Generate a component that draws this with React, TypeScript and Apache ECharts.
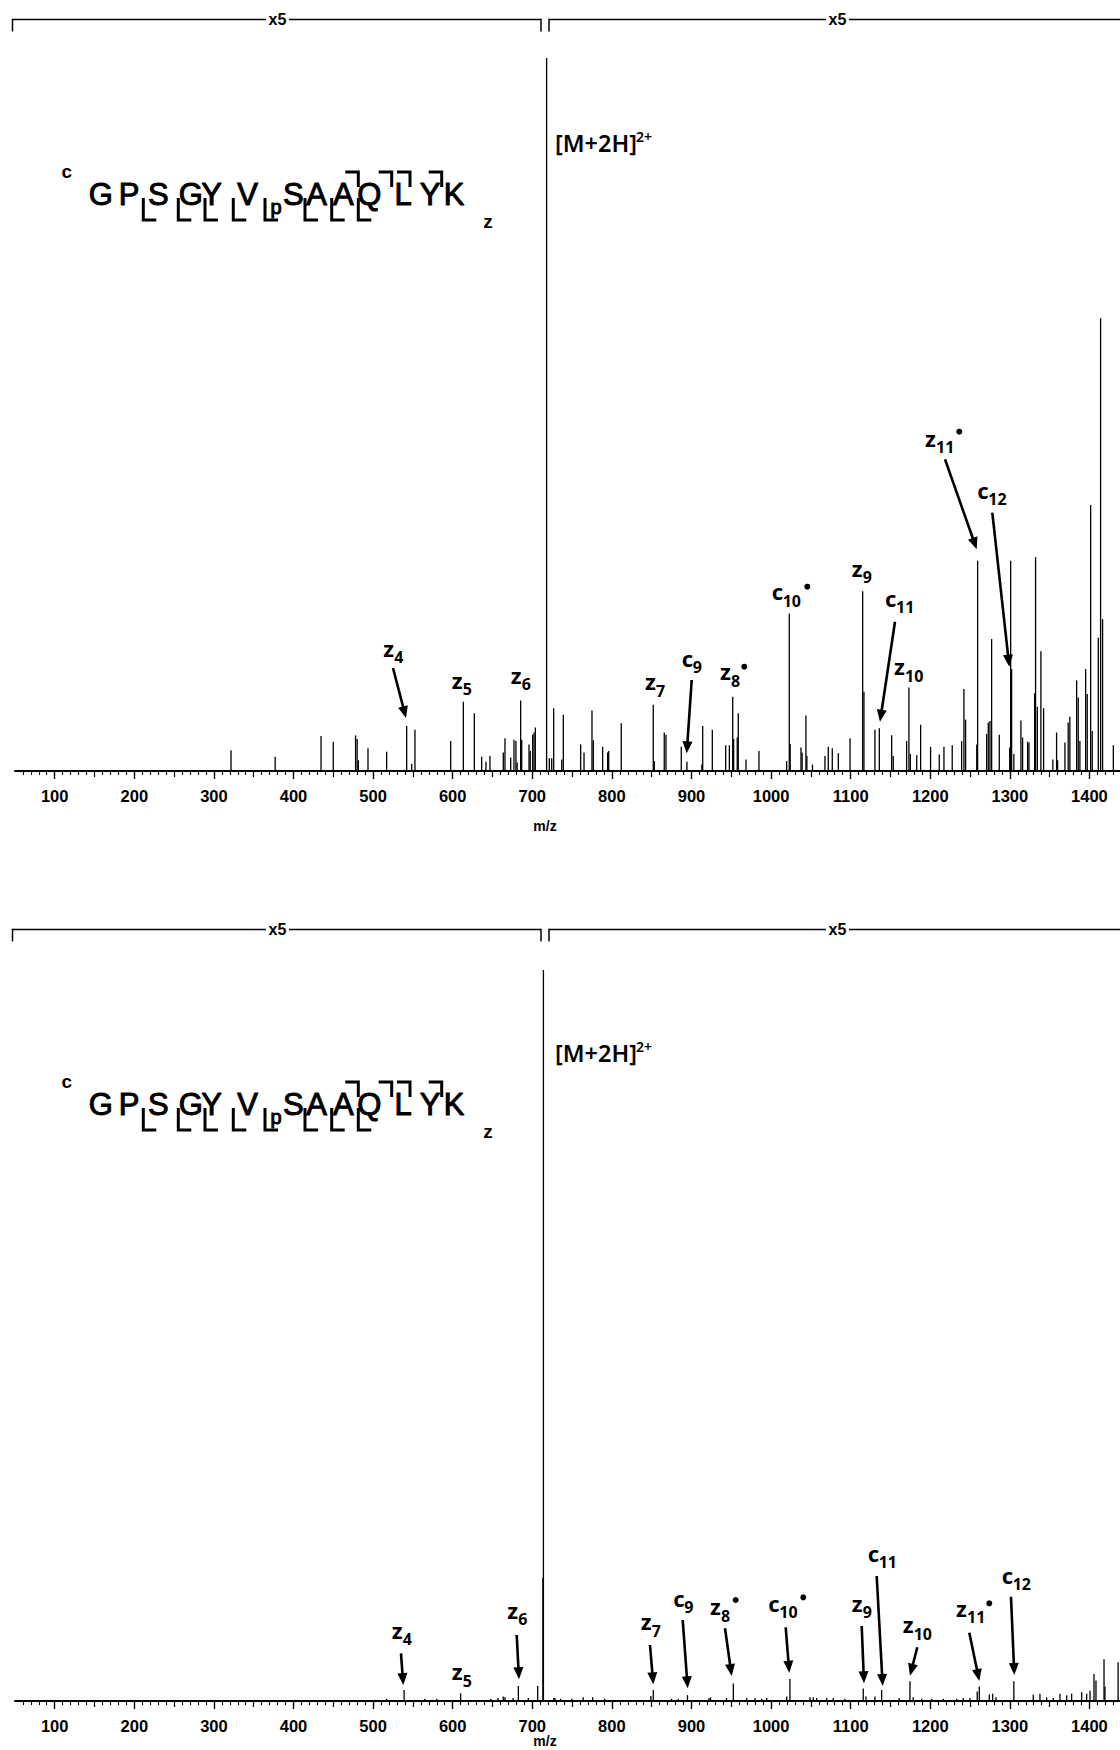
import React, { useEffect, useRef } from "react";
import * as echarts from "echarts";

// ---------- data ----------
const MZ_MIN = 50;
const MZ_MAX = 1438;
const tickLabels = [100, 200, 300, 400, 500, 600, 700, 800, 900, 1000, 1100, 1200, 1300, 1400];

// top spectrum (x5 magnified), [m/z, relative intensity]
const topPeaks: [number, number][] = [
  [321.5, 2.9], [377, 2.0], [434.6, 4.9], [450, 4.1], [478, 5.0], [480, 4.5], [481.5, 1.5], [493.6, 3.2], [517, 2.7],
  [542.2, 6.3], [548.5, 1.0], [552.6, 5.8], [597.5, 4.2], [613.4, 9.7], [627.2, 8.1], [636.4, 2.0], [641.8, 1.3],
  [646.8, 2.1], [663.6, 2.6], [665.7, 4.6], [672.9, 1.9], [677, 4.4], [679.5, 4.2], [681, 1.2], [685.4, 9.9],
  [686.7, 4.4], [695.9, 3.7], [697.5, 2.8], [700.5, 5.1], [702.2, 5.4], [703.8, 6.1], [718, 100], [721.4, 1.8],
  [724.4, 1.8], [726.9, 8.8], [737, 1.6], [739, 7.9], [760.8, 3.7], [765, 2.6], [775, 8.5], [776.7, 4.3],
  [788.4, 3.4], [794.7, 2.6], [796, 2.8], [811.8, 6.7], [852, 9.3], [853.3, 1.4], [865.8, 5.4], [868, 5.1],
  [887.2, 3.4], [894.3, 1.3], [913, 0.9], [914.1, 6.3], [926.2, 5.8], [943, 3.6], [947.6, 3.6], [951.8, 10.4],
  [953, 4.5], [957.5, 4.7], [958.8, 8.1], [968.5, 1.6], [984.8, 2.8],
  [1019.6, 1.4], [1022.9, 22.1], [1024, 3.8], [1037.6, 3.3], [1039, 2.6], [1043.8, 7.8], [1045, 2.1], [1052, 0.9],
  [1067.7, 2.1], [1071.9, 3.4], [1076.9, 3.2], [1084.5, 2.5], [1099.2, 4.6], [1115.1, 25.2], [1116.7, 11.1],
  [1130.5, 5.8], [1136, 6.0], [1151.5, 5.0], [1153.5, 2.1], [1170.3, 4.2], [1173.2, 11.7], [1175, 2.4],
  [1183, 2.2], [1187.9, 6.5], [1200.4, 3.4], [1211.3, 2.3], [1217.2, 3.4], [1227.6, 3.6], [1239.4, 4.2],
  [1242.3, 11.5], [1244.4, 7.2], [1258.4, 3.7], [1259.5, 29.5], [1270.8, 5.2], [1272.9, 6.8], [1275, 7.0],
  [1277.1, 18.5], [1286.7, 5.1], [1299.8, 3.3], [1301, 29.5], [1302.2, 14.3], [1305, 2.4], [1313.9, 7.1],
  [1316, 4.7], [1322.3, 4.1], [1324, 4.0], [1331.1, 10.9], [1332.3, 30.0], [1334.5, 9.0], [1339, 16.8],
  [1342.4, 8.8], [1354, 1.6], [1358.7, 5.4], [1360, 1.5], [1369.2, 4.0], [1373.3, 6.8], [1375.4, 7.6],
  [1383.9, 12.7], [1385.9, 10.3], [1388, 4.2], [1395.2, 14.3], [1397.2, 10.8], [1401.5, 37.3], [1403.5, 5.6],
  [1411.1, 18.7], [1414, 63.5], [1416.5, 21.3], [1430, 3.6],
];

// bottom spectrum, [m/z, relative intensity]
const bottomPeaks: [number, number][] = [
  [517, 0.3], [539, 1.5], [565, 0.3], [580, 0.3], [610, 1.05], [648, 0.3], [657, 0.4], [663.5, 0.6], [665.7, 0.5],
  [676, 0.4], [682.5, 2.05], [695, 0.4], [706.8, 2.05], [713.3, 16.9], [714, 100], [727, 0.4], [728.5, 0.4],
  [735.6, 0.3], [749.5, 0.3], [764, 0.5], [775.9, 0.5], [791, 0.3], [849, 0.7], [852, 1.5], [875, 0.3],
  [883.4, 0.3], [895, 0.8], [922, 0.4], [924, 0.5], [944, 0.4], [952.6, 2.4],
  [969.3, 0.4], [979.8, 0.4], [988.2, 0.3], [994.5, 0.4], [1019.6, 0.6], [1023.7, 3.0], [1048.9, 0.5],
  [1053, 0.5], [1057.3, 0.4], [1069.8, 0.4], [1078.2, 0.4], [1092.8, 0.3], [1115.8, 1.7], [1119.2, 0.6],
  [1130.5, 0.6], [1138.9, 1.5], [1161, 0.4], [1174.5, 2.7], [1178.6, 0.5], [1189.2, 0.3], [1201.8, 0.3],
  [1216.4, 0.3], [1233.2, 0.3], [1241.5, 0.4], [1249.9, 0.4], [1259, 1.3], [1261.6, 2.0], [1274.2, 0.9],
  [1278.4, 1.0], [1282.6, 0.5], [1305, 2.7], [1329.4, 0.9], [1337.8, 1.0], [1346.2, 0.5], [1354.6, 0.4],
  [1363, 1.0], [1371.4, 0.8], [1377.6, 1.0], [1390.2, 1.2], [1396.5, 1.0], [1400.7, 1.4], [1405.7, 3.7],
  [1408.2, 2.8], [1418.3, 5.7], [1419.5, 2.0], [1436, 5.3],
];

const sequence = ["G", "P", "S", "G", "Y", "V", "S", "A", "A", "Q", "L", "Y", "K"];
const precursorText = "[M+2H]";
const precursorCharge = "2+";
const magnification = "x5";
const axisName = "m/z";

// ---------- layout (pixels) ----------
const seqX = [100.8, 129, 158.3, 190.8, 211.7, 247.5, 293.3, 316.7, 343.3, 369.2, 403, 430, 454];
const cBracketX = [143.3, 178.3, 205, 233.3, 265, 305, 331.7, 358.3];
const zBracketX = [358.3, 391.7, 410, 441.7];

type Lab = { ion: string; n: string; x: number; b: number; dot?: [number, number] };
const topLabels: Lab[] = [
  { ion: "z", n: "4", x: 383.3, b: 656.7 },
  { ion: "z", n: "5", x: 451.7, b: 688.3 },
  { ion: "z", n: "6", x: 510.7, b: 683.3 },
  { ion: "z", n: "7", x: 645, b: 690 },
  { ion: "c", n: "9", x: 681.7, b: 666.7 },
  { ion: "z", n: "8", x: 720, b: 680, dot: [744.3, 666.7] },
  { ion: "c", n: "10", x: 771.7, b: 600, dot: [807.3, 586.7] },
  { ion: "z", n: "9", x: 851.7, b: 576.7 },
  { ion: "c", n: "11", x: 885, b: 606.7 },
  { ion: "z", n: "10", x: 894, b: 675 },
  { ion: "z", n: "11", x: 925, b: 446.7, dot: [959.3, 431.7] },
  { ion: "c", n: "12", x: 977.3, b: 498.3 },
];
const topArrows: number[][] = [
  [393, 668, 406, 718],
  [691.7, 680, 686.7, 753.3],
  [895, 621.7, 880, 721.7],
  [945, 459.3, 976.7, 549.3],
  [992.3, 512.7, 1009.3, 666.7],
];
const bottomLabels: Lab[] = [
  { ion: "z", n: "4", x: 391.7, b: 1638.3 },
  { ion: "z", n: "5", x: 451.7, b: 1680 },
  { ion: "z", n: "6", x: 507.3, b: 1618.3 },
  { ion: "z", n: "7", x: 640.7, b: 1630 },
  { ion: "c", n: "9", x: 673.3, b: 1606.7 },
  { ion: "z", n: "8", x: 710, b: 1615, dot: [735.7, 1600] },
  { ion: "c", n: "10", x: 768.3, b: 1611.7, dot: [803.3, 1597.3] },
  { ion: "z", n: "9", x: 851.7, b: 1611.7 },
  { ion: "c", n: "11", x: 867.7, b: 1561.7 },
  { ion: "z", n: "10", x: 902.7, b: 1633 },
  { ion: "z", n: "11", x: 956, b: 1616.7, dot: [989.3, 1603.3] },
  { ion: "c", n: "12", x: 1001.7, b: 1583.3 },
];
const bottomArrows: number[][] = [
  [401, 1653.3, 403.3, 1685],
  [516.7, 1635, 519, 1679.3],
  [650, 1645, 653.3, 1684.3],
  [682.7, 1620, 687.7, 1688.3],
  [725, 1628.3, 731.7, 1676],
  [785.7, 1627.3, 789.3, 1672.7],
  [861.7, 1626, 864, 1683.3],
  [876.7, 1576, 882.7, 1686],
  [917.3, 1647.3, 910, 1675.7],
  [969.3, 1632.7, 979.3, 1681],
  [1011, 1596.7, 1014.3, 1675],
];

const GRID_LEFT = 14.9;
const GRID_WIDTH = 1104.8;
const PANELS = [
  { top: 58, height: 713, dy: 0, mzY: 826 },
  { top: 970, height: 731, dy: 910, mzY: 1741 },
];

const NOTO = "'Noto Sans', 'DejaVu Sans', sans-serif";
const ARIAL = "'Liberation Sans', Arial, sans-serif";

function txt(x: number, baseline: number, text: string, size: number, family: string, weight: string | number, align = "left", extra: any = {}) {
  const k = family === NOTO ? 0.388 : 0.3465;
  return {
    type: "text",
    x,
    y: baseline - k * size,
    silent: true,
    z: 100,
    style: { text, fontSize: size, fontFamily: family, fontWeight: weight, fill: "#000", align, verticalAlign: "middle", ...extra },
  };
}

function line(x1: number, y1: number, x2: number, y2: number, w: number) {
  return { type: "line", silent: true, z: 100, shape: { x1, y1, x2, y2 }, style: { stroke: "#000", lineWidth: w } };
}

function arrow(a: number[]) {
  const [x1, y1, x2, y2] = a;
  const dx = x2 - x1, dy = y2 - y1;
  const len = Math.sqrt(dx * dx + dy * dy);
  const ux = dx / len, uy = dy / len;
  const hl = 12, hw = 5;
  const bx = x2 - ux * hl, by = y2 - uy * hl;
  return [
    line(x1, y1, x2 - ux * 4, y2 - uy * 4, 2.6),
    {
      type: "polygon",
      silent: true,
      z: 100,
      shape: { points: [[x2, y2], [bx - uy * hw, by + ux * hw], [bx + uy * hw, by - ux * hw]] },
      style: { fill: "#000" },
    },
  ];
}

function label(l: Lab) {
  const els: any[] = [];
  els.push(txt(l.x, l.b, l.ion, 22, NOTO, "bold"));
  els.push(txt(l.x + 11, l.b + 7, l.n, 16, NOTO, "bold"));
  if (l.dot) {
    els.push({ type: "circle", silent: true, z: 100, shape: { cx: l.dot[0], cy: l.dot[1], r: 3 }, style: { fill: "#000" } });
  }
  return els;
}

function panelDecor(dy: number, mzY: number) {
  const els: any[] = [];
  // x5 brackets
  const by = 19.5 + dy;
  els.push(line(12.5, by, 266, by, 1.5));
  els.push(line(289, by, 541, by, 1.5));
  els.push(line(12.5, by - 0.75, 12.5, by + 12, 1.5));
  els.push(line(541, by - 0.75, 541, by + 12, 1.5));
  els.push(txt(277.5, by + 6, magnification, 16, ARIAL, "bold", "center"));
  els.push(line(549, by, 826, by, 1.5));
  els.push(line(849, by, 1125, by, 1.5));
  els.push(line(549, by - 0.75, 549, by + 12, 1.5));
  els.push(txt(837.5, by + 6, magnification, 16, ARIAL, "bold", "center"));
  // precursor label
  els.push(txt(555, 151.7 + dy, precursorText, 23.5, NOTO, 600));
  els.push(txt(636, 141.7 + dy, precursorCharge, 14, NOTO, 600));
  // sequence
  const sb = 205 + dy;
  const thick = { stroke: "#000", lineWidth: 1.0 };
  sequence.forEach((s, i) => els.push(txt(seqX[i], sb, s, 31, ARIAL, "normal", "center", thick)));
  els.push(txt(66.7, 178.3 + dy, "c", 19, ARIAL, "bold", "center"));
  els.push(txt(488, 228 + dy, "z", 19, ARIAL, "bold", "center"));
  els.push(txt(276, 214 + dy, "p", 20, ARIAL, "normal", "center", thick));
  cBracketX.forEach((x) => {
    els.push({
      type: "polyline", silent: true, z: 100,
      shape: { points: [[x, 198 + dy], [x, 220 + dy], [x + 13, 220 + dy]] },
      style: { stroke: "#000", lineWidth: 3, fill: null },
    });
  });
  zBracketX.forEach((x) => {
    els.push({
      type: "polyline", silent: true, z: 100,
      shape: { points: [[x - 13, 172 + dy], [x, 172 + dy], [x, 187 + dy]] },
      style: { stroke: "#000", lineWidth: 3, fill: null },
    });
  });
  // m/z
  els.push(txt(545, mzY + 5, axisName, 14, ARIAL, "bold", "center"));
  return els;
}

export default function App() {
  const ref = useRef<HTMLDivElement>(null);
  useEffect(() => {
    document.body.style.margin = "0";
    if (!ref.current) return;
    const chart = echarts.init(ref.current, null, { renderer: "svg" });

    const majorTicks = tickLabels.slice();
    const midTicks: number[] = [];
    const minorTicks: number[] = [];
    for (let v = 60; v < MZ_MAX; v += 10) {
      if (v % 100 === 0) continue;
      if (v % 50 === 0) midTicks.push(v);
      else minorTicks.push(v);
    }

    const grids: any[] = [];
    const xAxes: any[] = [];
    const yAxes: any[] = [];
    const series: any[] = [];
    const renderItem = (params: any, api: any) => {
      const x = api.value(0), y = api.value(1);
      const p0 = api.coord([x, 0]);
      const p1 = api.coord([x, y]);
      return { type: "line", shape: { x1: p0[0], y1: p0[1], x2: p1[0], y2: p1[1] }, style: { stroke: "#000", lineWidth: 1.3 } };
    };

    PANELS.forEach((p, i) => {
      grids.push({ left: GRID_LEFT, width: GRID_WIDTH, top: p.top, height: p.height });
      const base = { gridIndex: i, type: "value", position: "bottom", offset: 0, min: MZ_MIN, max: MZ_MAX, splitLine: { show: false } };
      xAxes.push({
        ...base,
        axisLine: { show: true, lineStyle: { color: "#000", width: 1.8 } },
        axisTick: { show: true, customValues: majorTicks, length: 8, lineStyle: { color: "#000", width: 1.4 } },
        axisLabel: {
          show: true, customValues: majorTicks, margin: 16, fontSize: 16.5, fontWeight: "bold",
          fontFamily: ARIAL, color: "#000", formatter: (v: number) => String(v),
        },
      });
      xAxes.push({
        ...base,
        axisLine: { show: false },
        axisTick: { show: true, customValues: midTicks, length: 6, lineStyle: { color: "#000", width: 1.2 } },
        axisLabel: { show: false },
      });
      xAxes.push({
        ...base,
        axisLine: { show: false },
        axisTick: { show: true, customValues: minorTicks, length: 4, lineStyle: { color: "#000", width: 1.1 } },
        axisLabel: { show: false },
      });
      yAxes.push({ gridIndex: i, type: "value", min: 0, max: 100, show: false });
      series.push({
        type: "custom",
        xAxisIndex: i * 3,
        yAxisIndex: i,
        data: i === 0 ? topPeaks : bottomPeaks,
        encode: { x: 0, y: 1 },
        renderItem,
        silent: true,
      });
    });

    const graphics: any[] = [];
    PANELS.forEach((p) => graphics.push(...panelDecor(p.dy, p.mzY)));
    topLabels.forEach((l) => graphics.push(...label(l)));
    bottomLabels.forEach((l) => graphics.push(...label(l)));
    topArrows.forEach((a) => graphics.push(...arrow(a)));
    bottomArrows.forEach((a) => graphics.push(...arrow(a)));

    chart.setOption({
      animation: false,
      backgroundColor: "#fff",
      grid: grids,
      xAxis: xAxes,
      yAxis: yAxes,
      series,
      graphic: { elements: graphics },
    });
    return () => chart.dispose();
  }, []);
  return <div ref={ref} style={{ width: 1120, height: 1750, overflow: "hidden" }} />;
}
